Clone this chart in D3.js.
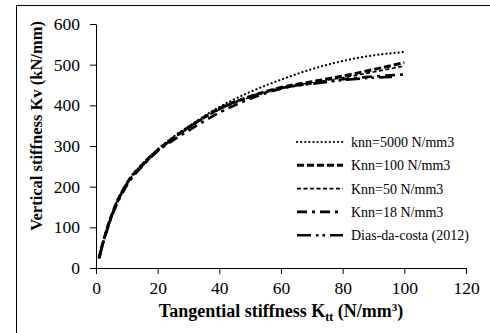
<!DOCTYPE html>
<html>
<head>
<meta charset="utf-8">
<script src="https://cdn.jsdelivr.net/npm/d3@7"></script>
<style>
  body { margin: 0; background: #fff; }
  svg text { font-family: "Liberation Serif", "Times New Roman", Times, "DejaVu Serif", serif !important; fill: #000; }
</style>
</head>
<body>
<div id="chart"></div>
<script>
// Kv versus Ktt values
const kttValues = [1, 2, 5, 10, 15, 20, 25, 30, 40, 50, 60, 70, 80, 90, 100];
const knn5000 = [25, 55, 130, 210, 256, 292, 322, 348, 396, 433, 463, 489, 509, 523, 531];
const knn100  = [25, 55, 128, 208, 254, 290, 320, 346, 392, 422, 444, 458, 472, 488, 505];
const knn50   = [25, 55, 128, 207, 253, 289, 318, 344, 390, 420, 443, 456, 468, 482, 497];
const knn18   = [25, 53, 124, 203, 250, 287, 314, 338, 382, 416, 441, 454, 464, 471, 476];
const diasKtt = [1, 2, 5, 10, 15, 20, 25, 30, 40, 50, 60, 70, 80, 90, 96];
const diasKv  = [25, 54, 127, 206, 252, 289, 318, 345, 391, 421, 442, 453, 462, 468, 470];
const xTicks = [0, 20, 40, 60, 80, 100, 120];
const yTicks = [0, 100, 200, 300, 400, 500, 600];

const seriesNames = ["knn=5000 N/mm3", "Knn=100 N/mm3", "Knn=50 N/mm3", "Knn=18 N/mm3", "Dias-da-costa (2012)"];
const seriesX = [kttValues, kttValues, kttValues, kttValues, diasKtt];
const seriesY = [knn5000, knn100, knn50, knn18, diasKv];
const strokeStyle = [
  { w: 2.2, dash: "0.1,4", cap: "round" },
  { w: 3, dash: "7,3", cap: "butt" },
  { w: 1.6, dash: "4,2.5", cap: "butt" },
  { w: 2.6, dash: "10,5,3,5", cap: "butt" },
  { w: 2.6, dash: "14,5,2.5,4,2.5,5", cap: "butt" }
];

let width = 490, height = 333,
  margin = ({ top: 24, right: 24, bottom: 65, left: 96 });

const svg = d3.select("#chart")
  .append("svg")
  .attr("width", width)
  .attr("height", height);

// outer frame of the figure
svg.append("rect")
  .attr("x", 16.5).attr("y", 5.5)
  .attr("width", 600).attr("height", 400)
  .attr("fill", "none").attr("stroke", "#000").attr("stroke-width", 1);

let xScale = d3.scaleLinear()
  .domain([0, 120])
  .range([margin.left, 466]);

let yScale = d3.scaleLinear()
  .domain([0, 600])
  .range([268, margin.top]);

const xAxis = svg.append("g")
  .attr("transform", `translate(0,${yScale(0)})`)
  .call(d3.axisBottom(xScale).tickValues(xTicks).tickSize(6).tickSizeOuter(0).tickPadding(8));

const yAxis = svg.append("g")
  .attr("transform", `translate(${xScale(0)},0)`)
  .call(d3.axisLeft(yScale).tickValues(yTicks).tickSize(6).tickSizeOuter(0).tickPadding(10));

[xAxis, yAxis].forEach(a => {
  a.attr("font-family", null).attr("font-size", null);
  a.selectAll("text").style("font-size", "17.5px");
  a.select(".domain").attr("stroke", "#000");
  a.selectAll(".tick line").attr("stroke", "#000");
});

const line = d3.line()
  .curve(d3.curveMonotoneX);

seriesNames.forEach((name, i) => {
  const pts = d3.zip(seriesX[i], seriesY[i]).map(p => [xScale(p[0]), yScale(p[1])]);
  svg.append("path")
    .attr("d", line(pts))
    .attr("fill", "none")
    .attr("stroke", "#000")
    .attr("stroke-width", strokeStyle[i].w)
    .attr("stroke-dasharray", strokeStyle[i].dash)
    .attr("stroke-linecap", strokeStyle[i].cap);
});

// legend
const legend = svg.append("g").attr("transform", "translate(297,142)");
seriesNames.forEach((name, i) => {
  const g = legend.append("g").attr("transform", `translate(0,${i * 23.3})`);
  g.append("line")
    .attr("x1", 0).attr("x2", 46).attr("y1", 0).attr("y2", 0)
    .attr("stroke", "#000")
    .attr("stroke-width", strokeStyle[i].w)
    .attr("stroke-dasharray", strokeStyle[i].dash)
    .attr("stroke-linecap", strokeStyle[i].cap);
  g.append("text")
    .attr("x", 54).attr("y", 0).attr("dy", "0.35em")
    .style("font-size", "14px")
    .text(name);
});

// axis titles
const xt = svg.append("text")
  .attr("x", 281).attr("y", 317)
  .attr("text-anchor", "middle")
  .style("font-size", "18px").style("font-weight", "bold");
xt.append("tspan").text("Tangential stiffness K");
xt.append("tspan").attr("dy", 4).style("font-size", "12px").text("tt");
xt.append("tspan").attr("dy", -4).text(" (N/mm");
xt.append("tspan").attr("dy", -6).style("font-size", "11px").text("3");
xt.append("tspan").attr("dy", 6).text(")");

svg.append("text")
  .attr("transform", "translate(42,126) rotate(-90)")
  .attr("text-anchor", "middle")
  .style("font-size", "16.5px").style("font-weight", "bold")
  .text("Vertical stiffness Kv (kN/mm)");
</script>
</body>
</html>
